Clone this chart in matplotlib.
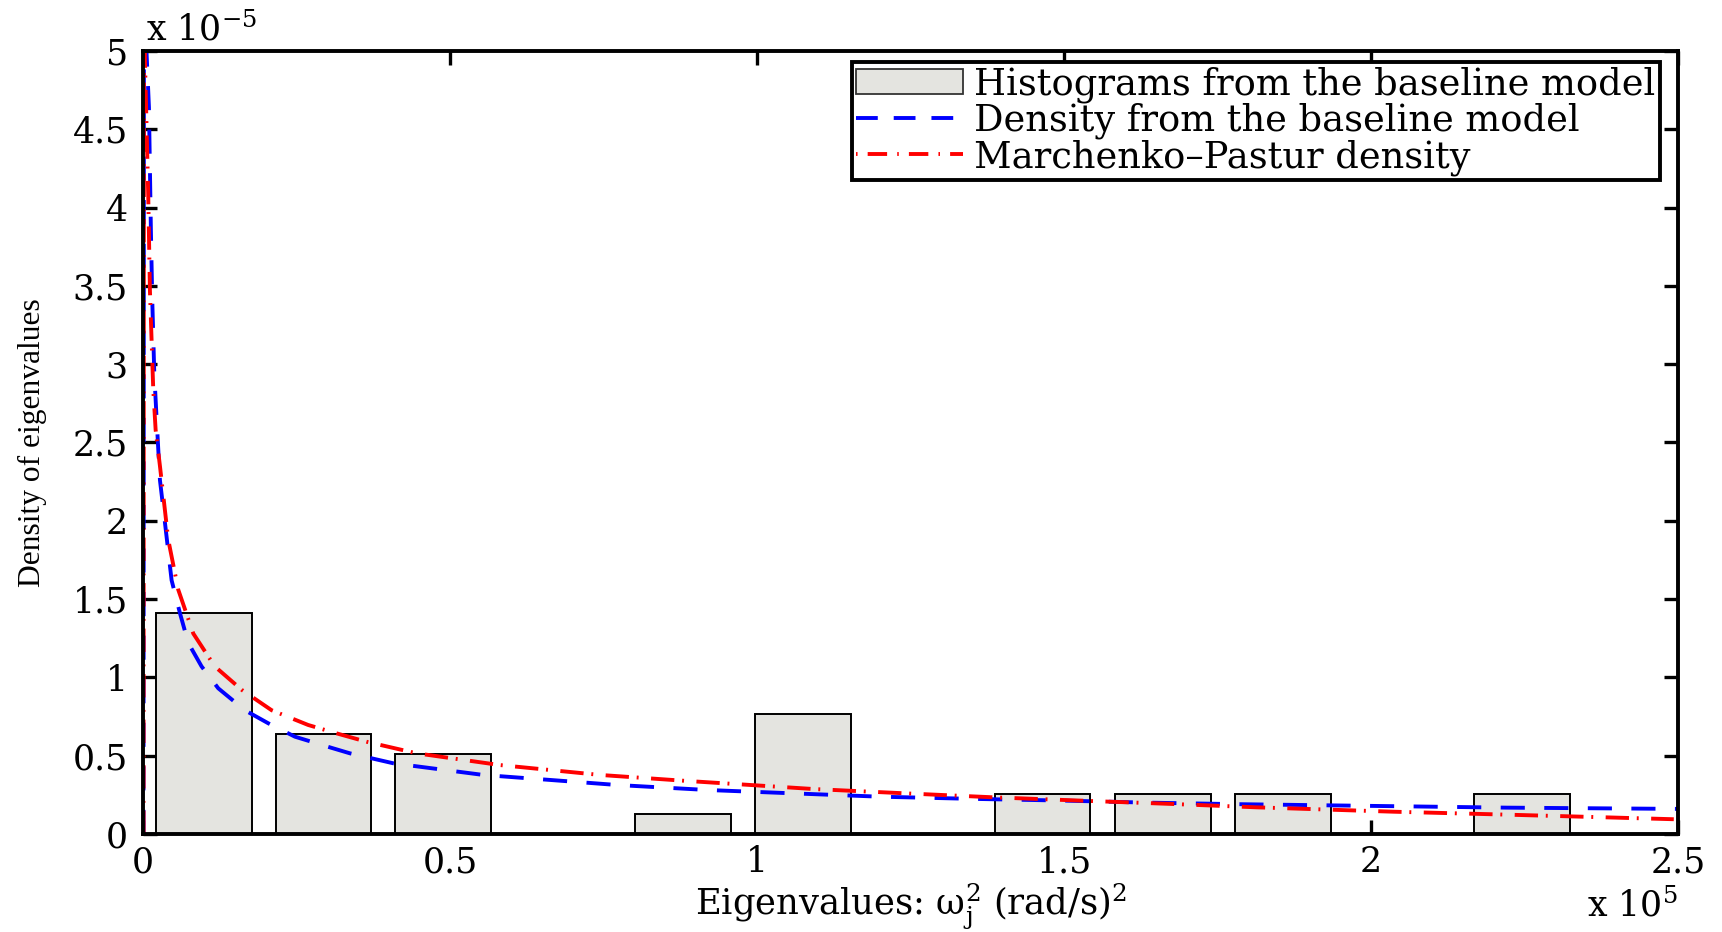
import matplotlib
matplotlib.use("Agg")
import matplotlib.pyplot as plt
from matplotlib.patches import Patch
from matplotlib.lines import Line2D
from matplotlib.ticker import FixedLocator, FuncFormatter

# Eigenvalues in units of 1e5 (rad/s)^2, densities in units of 1e-5
bin_centers = [0.099, 0.294, 0.489, 0.685, 0.880, 1.075,
               1.270, 1.465, 1.661, 1.856, 2.051, 2.246]
bin_heights = [1.408, 0.640, 0.512, 0.0, 0.128, 0.768,
               0.0, 0.256, 0.256, 0.256, 0.0, 0.256]

baseline_x = [0.001, 0.002, 0.006, 0.0098, 0.013, 0.0152, 0.0185, 0.0223,
              0.0277, 0.0358, 0.0467, 0.0603, 0.0738, 0.0955, 0.1227, 0.166,
              0.204, 0.2476, 0.307, 0.337, 0.408, 0.554, 0.700, 0.771, 0.918,
              1.054, 1.200, 1.352, 1.499, 1.635, 1.787, 2.004, 2.221, 2.500]
baseline_y = [0.0, 8.0, 4.98, 4.64, 3.85, 3.41, 2.94, 2.65,
              2.26, 1.99, 1.62, 1.41, 1.22, 1.07, 0.93, 0.79,
              0.707, 0.621, 0.550, 0.515, 0.451, 0.377, 0.334, 0.313, 0.281,
              0.260, 0.238, 0.224, 0.213, 0.200, 0.190, 0.179, 0.168, 0.160]

mp_x = [0.001, 0.002, 0.0033, 0.0087, 0.0114, 0.0168, 0.0207, 0.0277,
        0.0412, 0.0575, 0.082, 0.117, 0.161, 0.2096, 0.269, 0.313, 0.364,
        0.4457, 0.5814, 0.744, 0.880, 1.032, 1.0917, 1.238, 1.385, 1.526,
        1.673, 1.814, 2.037, 2.195, 2.346, 2.493]
mp_y = [0.0, 8.0, 4.94, 4.07, 3.47, 2.84, 2.58, 2.35,
        1.88, 1.56, 1.28, 1.07, 0.92, 0.79, 0.696, 0.645, 0.589,
        0.515, 0.440, 0.377, 0.340, 0.302, 0.287, 0.260, 0.234, 0.213,
        0.192, 0.170, 0.142, 0.126, 0.110, 0.094]

x_ticks = [0, 0.5, 1, 1.5, 2, 2.5]
y_ticks = [0, 0.5, 1, 1.5, 2, 2.5, 3, 3.5, 4, 4.5, 5]

legend_labels = ["Histograms from the baseline model",
                 "Density from the baseline model",
                 "Marchenko\u2013Pastur density"]

plt.rcParams["font.family"] = ["DejaVu Serif"]
plt.rcParams["mathtext.fontset"] = "dejavuserif"

fig = plt.figure(figsize=(17.22, 9.32), dpi=100)
ax = fig.add_axes([0.0830, 0.1052, 0.8915, 0.8401])

bar_color = "#e4e4e0"
ax.bar(bin_centers, bin_heights, width=0.156, color=bar_color,
       edgecolor="black", linewidth=1.4, zorder=2)

blue_style = (0, (6.2, 5.0))
red_style = (0, (6.0, 2.0, 0.5, 3.2))
ax.plot(baseline_x, baseline_y, color="#0000ff", linewidth=2.8,
        linestyle=blue_style, dash_capstyle="butt", zorder=3)
ax.plot(mp_x, mp_y, color="#ff0000", linewidth=2.8,
        linestyle=red_style, dash_capstyle="butt", zorder=4)

ax.set_xlim(0, 2.5)
ax.set_ylim(0, 5)
ax.xaxis.set_major_locator(FixedLocator(x_ticks))
ax.yaxis.set_major_locator(FixedLocator(y_ticks))
fmt = FuncFormatter(lambda v, p: "%g" % v)
ax.xaxis.set_major_formatter(fmt)
ax.yaxis.set_major_formatter(fmt)

for s in ax.spines.values():
    s.set_linewidth(2.8)
    s.set_zorder(5)
ax.tick_params(axis="both", which="major", direction="in", length=10,
               width=2.4, top=True, right=True, labelsize=25)
ax.tick_params(axis="x", pad=8)
ax.tick_params(axis="y", pad=11)

ax.set_xlabel(r"Eigenvalues: $\mathrm{\omega_j^2}$ (rad/s)$^2$",
              fontsize=25.5, va="center")
ax.xaxis.set_label_coords(0.5, -0.092)
ax.set_ylabel("Density of eigenvalues", fontsize=22.7,
              family=["Liberation Serif", "DejaVu Serif"],
              va="center", ha="center")
ax.yaxis.set_label_coords(-0.0717, 0.5)

ax.text(0.002, 1.014, r"x 10$^{-5}$", transform=ax.transAxes,
        ha="left", va="baseline", fontsize=25)
ax.text(1.0, -0.106, r"x 10$^{5}$", transform=ax.transAxes,
        ha="right", va="baseline", fontsize=25)

handles = [
    Patch(facecolor=bar_color, edgecolor="#333333", linewidth=1.3),
    Line2D([], [], color="#0000ff", linewidth=2.8, linestyle=(0, (5.6, 4.1)),
           dash_capstyle="butt"),
    Line2D([], [], color="#ff0000", linewidth=2.8,
           linestyle=(0, (0.4, 2.6, 5.0, 2.6)), dash_capstyle="butt"),
]
leg = ax.legend(handles, legend_labels, loc="upper right",
                bbox_to_anchor=(0.988, 0.986), fontsize=26.5, frameon=True,
                fancybox=False, framealpha=1, edgecolor="black",
                borderpad=0.12, labelspacing=0.0, handlelength=2.9,
                handletextpad=0.3, borderaxespad=0)
leg.get_frame().set_linewidth(2.8)
leg.set_zorder(6)

fig.savefig("out.png", dpi=100, facecolor="white")
